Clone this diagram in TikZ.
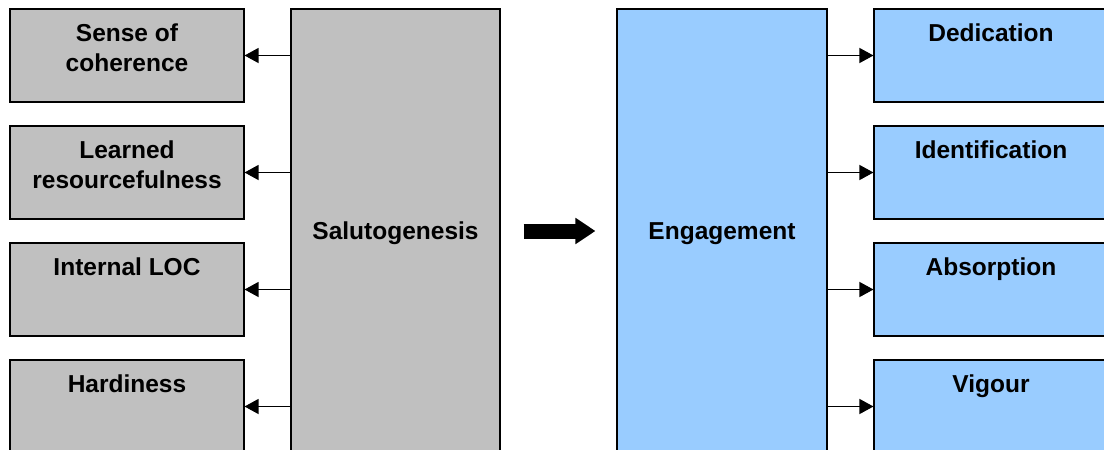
\documentclass[tikz,border=0pt]{standalone}
\usepackage{fontspec}
\setmainfont{Liberation Sans}
\usepackage{tikz}
\usetikzlibrary{arrows.meta,positioning}
\definecolor{Grey}{HTML}{C0C0C0}
\definecolor{Sky}{HTML}{99CCFF}
\tikzset{
  box/.style={draw,line width=1.1pt,inner sep=0pt,minimum width=234pt,minimum height=93pt},
  bigbox/.style={draw,line width=1.1pt,inner sep=0pt,minimum height=444pt,text depth=0pt,font=\fontsize{24.5}{30}\selectfont\bfseries},
  boxtext/.style={anchor=north,inner sep=0pt,yshift=-15.5pt,align=center,font=\fontsize{24.5}{30}\selectfont\bfseries},
  link/.style={line width=1.3pt,-{Triangle[length=14pt,width=15pt]}}
}
\begin{document}
\begin{tikzpicture}[x=1pt,y=-1pt]
  \clip (0,0) rectangle (1104,450);
  \node[bigbox,fill=Grey,minimum width=209pt] (salut) at (395.5,231) {Salutogenesis};
  \node[bigbox,fill=Sky,minimum width=210pt] (engage) at (722,231) {Engagement};
  % left side
  \foreach \n/\y/\txt in {soc/55.5/{Sense of\\coherence},lr/172.5/{Learned\\resourcefulness},loc/289.5/{Internal LOC},hard/406.5/{Hardiness}} {
    \node[box,fill=Grey] (\n) at (127,\y) {};
    \node[boxtext] at (\n.north) {\txt};
    \draw[link] (salut.west |- \n.east) -- (\n.east);
  }
  % right side
  \foreach \n/\y/\txt in {ded/55.5/Dedication,ident/172.5/Identification,absorb/289.5/Absorption,vig/406.5/Vigour} {
    \node[box,fill=Sky] (\n) at (991,\y) {};
    \node[boxtext] at (\n.north) {\txt};
    \draw[link] (engage.east |- \n.west) -- (\n.west);
  }
  \draw[line width=15pt,-{Triangle[length=20pt,width=25pt]}] ([xshift=23pt]salut.east) -- ([xshift=-21pt]engage.west);
\end{tikzpicture}
\end{document}
